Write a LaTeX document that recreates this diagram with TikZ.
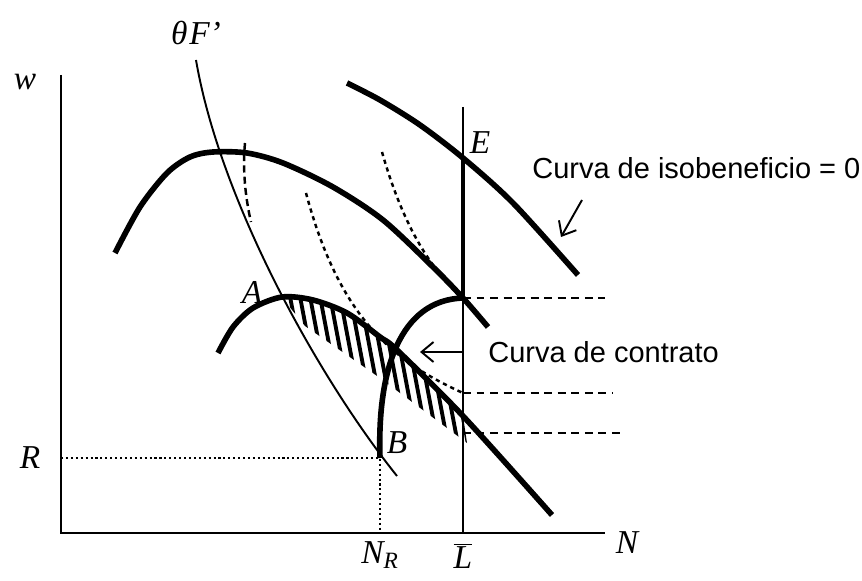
\documentclass[tikz,border=0pt]{standalone}
\usepackage{fontspec}
\setmainfont{Liberation Serif}
\setsansfont{Liberation Sans}
\usetikzlibrary{arrows.meta}

\begin{document}
\begin{tikzpicture}[
  thk/.style={line width=3.2pt},
  thn/.style={line width=1.1pt},
  isop/.style={line width=1.4pt, dash pattern=on 2.4pt off 2.2pt},
  hzd/.style={line width=1.4pt, dash pattern=on 4.5pt off 3.2pt},
  dots/.style={line width=1.1pt, dash pattern=on 1.2pt off 1.6pt},
  arr/.style={line width=1.1pt, -{Straight Barb[length=2.4mm,width=4mm]}},
  lbl/.style={font=\fontsize{19}{21}\selectfont\itshape, inner sep=1pt},
  txt/.style={font=\sffamily\fontsize{16.5}{19}\selectfont, anchor=west, inner sep=0pt},
]
\useasboundingbox (0,0) rectangle (17.24,11.6);

% key points
\coordinate (O)    at (1.22,0.94);
\coordinate (wtop) at (1.22,10.10);
\coordinate (nend) at (12.10,0.94);
\coordinate (A)    at (5.64,5.66);
\coordinate (B)    at (7.60,2.44);
\coordinate (E)    at (9.26,8.44);
\coordinate (K)    at (9.26,5.64);
\coordinate (Rl)   at (1.22,2.44);
\coordinate (NRb)  at (7.60,0.94);
\coordinate (Lt)   at (9.26,9.46);
\coordinate (Lb)   at (9.26,0.94);

% hatched set between the two curves
\begin{scope}
  \clip plot[smooth] coordinates {(5.64,5.66) (6.26,5.60) (6.94,5.34) (7.60,4.86) (7.94,4.60) (9.26,3.28)}
        -- (9.34,2.74) -- (7.60,4.04) -- (6.10,5.08) -- (5.68,5.60) -- cycle;
  \foreach \x in {5.30,5.50,...,9.40}
    \draw[line width=2.2pt] (\x,6.2) -- (\x+0.7,2.5);
\end{scope}

% axes
\draw[thn] (wtop) -- (O) -- (nend);
\draw[line width=0.9pt] (Lt) -- (Lb);

% reservation wage and employment
\draw[dots] (Rl) -- (B) -- (NRb);

% labour demand
\draw[thn] (3.92,10.40) .. controls (4.40,7.60) and (6.34,4.08) .. (7.94,2.08);

% isoprofit curves
\draw[isop, dash pattern=on 4pt off 2.4pt] (4.90,8.74) .. controls (4.84,8.10) and (4.94,7.50) .. (5.02,7.16);
\draw[isop] (6.12,7.74) .. controls (6.80,5.20) and (7.90,4.36) .. (9.26,3.74);
\draw[isop] (7.64,8.56) .. controls (8.00,7.30) and (8.50,6.30) .. (K);

% indifference / isoprofit thick curves
\draw[thk] plot[smooth] coordinates {(2.30,6.54) (2.80,7.46) (3.34,8.14) (3.80,8.46) (4.26,8.56) (4.94,8.54)
  (5.66,8.34) (6.66,7.86) (7.66,7.20) (8.66,6.26) (9.26,5.64) (9.76,5.06)};
\draw[thk] plot[smooth] coordinates {(6.94,9.94) (7.60,9.60) (8.40,9.10) (9.26,8.44) (10.26,7.54) (11.56,6.10)};
\draw[thk] plot[smooth] coordinates {(4.36,4.54) (4.66,5.06) (5.06,5.44) (5.64,5.66) (6.26,5.60) (6.94,5.34)
  (7.60,4.86) (7.94,4.60) (9.26,3.28) (11.04,1.30)};

% contract curve
\draw[thk] (B) .. controls (7.54,4.20) and (8.00,5.60) .. (K);
\draw[line width=2.8pt] (E) -- (K);

% dashed levels
\coordinate (h1) at (12.10,5.64);
\coordinate (m2) at (9.26,3.74);
\coordinate (h2) at (12.24,3.74);
\coordinate (m3) at (9.26,2.94);
\coordinate (h3) at (12.46,2.94);
\draw[hzd] (K) -- (h1);
\draw[hzd] (m2) -- (h2);
\draw[hzd] (m3) -- (h3);

% labels
\node[lbl] (thF) at (3.92,10.94) {θ\kern1pt F'};
\node[lbl] (wl)  at (0.50,9.96) {w};
\node[lbl] (Rlb) at (0.60,2.44) {R};
\node[lbl] (Nl)  at (12.54,0.74) {N};
\node[lbl, anchor=north] (NRl) at (7.60,0.80) {N\textsubscript{R}};
\node[lbl, anchor=north] (Ll)  at (9.26,0.78) {$\overline{\mbox{\itshape L}}$};
\node[lbl] (El) at (9.60,8.74) {E};
\node[lbl] (Al) at (5.04,5.76) {A};
\node[lbl] (Bl) at (7.94,2.74) {B};

% texts with arrows
\node[txt] (iso) at (10.64,8.24) {Curva de isobeneficio = 0};
\coordinate (ia1) at (11.64,7.60);
\coordinate (ia2) at (11.22,6.86);
\draw[arr] (ia1) -- (ia2);

\node[txt] (con) at (9.76,4.56) {Curva de contrato};
\coordinate (ca1) at (9.26,4.56);
\coordinate (ca2) at (8.40,4.56);
\draw[arr] (ca1) -- (ca2);
\end{tikzpicture}
\end{document}
